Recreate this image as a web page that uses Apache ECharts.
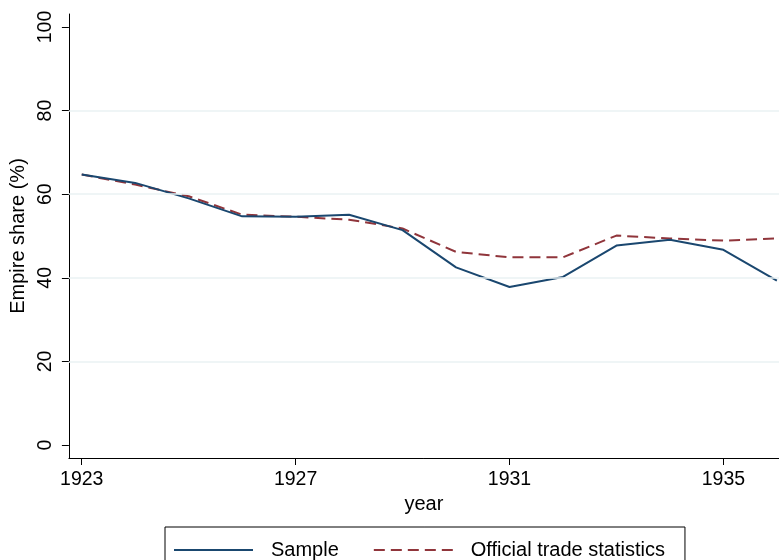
<!DOCTYPE html>
<html>
<head>
<meta charset="utf-8">
<script src="https://cdn.jsdelivr.net/npm/echarts@6/dist/echarts.min.js"></script>
<style>
  html, body { margin: 0; padding: 0; background: #fff; }
  #chart { width: 779px; height: 560px; }
</style>
</head>
<body>
<div id="chart"></div>
<script>
const years = [1923, 1924, 1925, 1926, 1927, 1928, 1929, 1930, 1931, 1932, 1933, 1934, 1935, 1936];
const sample = [64.7, 62.7, 59.0, 54.7, 54.6, 55.1, 51.4, 42.5, 37.8, 40.2, 47.7, 49.1, 46.7, 39.3];
const official = [64.7, 62.3, 59.5, 55.1, 54.6, 53.9, 51.8, 46.2, 44.9, 44.9, 50.1, 49.4, 48.9, 49.4];
const xTicks = [1923, 1927, 1931, 1935];
const yTicks = [0, 20, 40, 60, 80, 100];
const gridValues = [20, 40, 60, 80];

const font = 'Liberation Sans, Arial, Helvetica, sans-serif';
const chart = echarts.init(document.getElementById('chart'));

const option = {
  animation: false,
  textStyle: { fontFamily: font },
  grid: { left: 67, right: 0, top: 14, bottom: 102, containLabel: false },
  xAxis: {
    type: 'value',
    min: 1922.76,
    max: 1936.04,
    name: 'year',
    nameLocation: 'middle',
    nameGap: 33,
    nameTextStyle: { fontSize: 20, color: '#000', fontFamily: font },
    axisLine: { show: true, onZero: false, lineStyle: { color: '#000', width: 1 } },
    axisTick: { show: true, length: 7, customValues: xTicks, lineStyle: { color: '#000' } },
    axisLabel: {
      customValues: xTicks, fontSize: 19.5, color: '#000', margin: 12, fontFamily: font,
      formatter: v => String(v)
    },
    splitLine: { show: false }
  },
  yAxis: {
    type: 'value',
    min: -3.1,
    max: 103.1,
    name: 'Empire share (%)',
    nameLocation: 'middle',
    nameRotate: 90,
    nameGap: 36,
    nameTextStyle: { fontSize: 20, color: '#000', fontFamily: font },
    axisLine: { show: true, lineStyle: { color: '#000', width: 1 } },
    axisTick: { show: true, length: 7, customValues: yTicks, lineStyle: { color: '#000' } },
    axisLabel: { customValues: yTicks, rotate: 90, fontSize: 19.5, color: '#000', margin: 13, fontFamily: font },
    splitLine: { show: false }
  },
  legend: {
    left: 165,
    top: 527,
    orient: 'horizontal',
    padding: [13, 20, 20, 8],
    itemGap: 34,
    itemWidth: 79,
    itemHeight: 14,
    borderColor: '#000',
    borderWidth: 1,
    backgroundColor: '#fff',
    itemStyle: { opacity: 0 },
    textStyle: { fontSize: 20, color: '#000', fontFamily: font, padding: [0, 0, 0, 13] },
    data: ['Sample', 'Official trade statistics']
  },
  series: [
    {
      name: 'grid',
      type: 'line',
      data: [],
      z: 1,
      silent: true,
      markLine: {
        silent: true,
        symbol: 'none',
        label: { show: false },
        lineStyle: { color: '#eaf2f3', width: 1.5, type: 'solid' },
        data: gridValues.map(v => ({ yAxis: v }))
      }
    },
    {
      name: 'Sample',
      type: 'line',
      z: 3,
      symbol: 'none',
      data: years.map((y, i) => [y, sample[i]]),
      lineStyle: { color: '#1a476f', width: 2 },
      itemStyle: { color: '#1a476f' }
    },
    {
      name: 'Official trade statistics',
      type: 'line',
      z: 2,
      symbol: 'none',
      data: years.map((y, i) => [y, official[i]]),
      lineStyle: { color: '#90353b', width: 2, type: [11, 6] },
      itemStyle: { color: '#90353b' }
    }
  ]
};

chart.setOption(option);
</script>
</body>
</html>
